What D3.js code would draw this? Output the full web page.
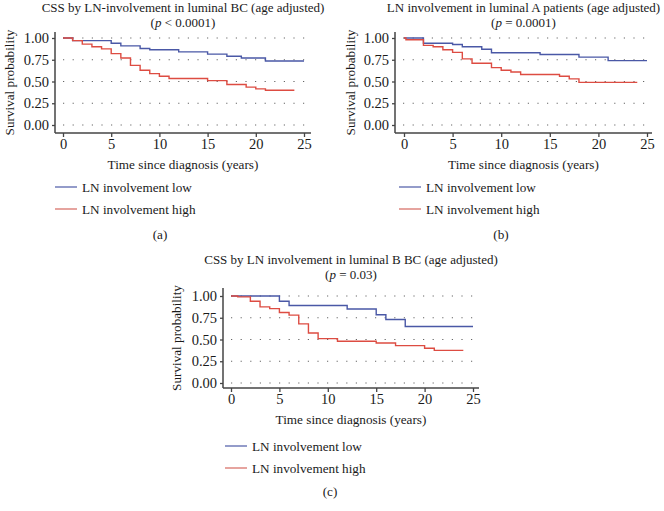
<!DOCTYPE html>
<html>
<head>
<meta charset="utf-8">
<script src="https://cdn.jsdelivr.net/npm/d3@7"></script>
<style>
html,body{margin:0;padding:0;background:#fff;}
svg{display:block;}
text{font-family:"Liberation Serif","Times New Roman",serif;fill:#1a1a1a;}
</style>
</head>
<body>
<svg id="chart" width="664" height="511"></svg>
<script>
// ---- data (step points: [time, survival]) ----
const xTicks = [0, 5, 10, 15, 20, 25];
const yTicks = [0, 0.25, 0.5, 0.75, 1.0];
const yTickLabels = ["0.00", "0.25", "0.50", "0.75", "1.00"];
const seriesNames = ["LN involvement low", "LN involvement high"];
const panelTitles = [
  ["CSS by LN-involvement in luminal BC (age adjusted)", "< 0.0001"],
  ["LN involvement in luminal A patients (age adjusted)", "= 0.0001"],
  ["CSS by LN involvement in luminal B BC (age adjusted)", "= 0.03"]
];
const panelLetters = ["(a)", "(b)", "(c)"];

const aLow = [[0,1],[1,0.97],[5,0.94],[6,0.91],[8,0.88],[9,0.865],[12,0.84],[15,0.815],[17,0.79],[18.5,0.77],[21,0.735],[25,0.735]];
const aHigh = [[0,1],[1,0.97],[2,0.93],[3,0.90],[4,0.875],[5,0.82],[6,0.77],[7,0.685],[8,0.63],[9,0.59],[10,0.56],[11,0.535],[15,0.51],[17,0.465],[19,0.435],[20,0.415],[21,0.40],[24,0.40]];

const bLow = [[0,1],[2,0.94],[5,0.925],[6,0.90],[8,0.87],[9,0.83],[14,0.81],[18,0.78],[21,0.74],[25,0.74]];
const bHigh = [[0,1],[0.2,0.98],[2,0.915],[3,0.90],[4,0.865],[5,0.835],[6,0.76],[7,0.71],[9,0.66],[10,0.63],[11,0.61],[12,0.58],[16,0.56],[17,0.53],[18,0.49],[24,0.49]];

const cLow = [[0,1],[5,0.94],[6,0.89],[12,0.85],[15,0.785],[16,0.73],[18,0.65],[25,0.65]];
const cHigh = [[0,1],[0.7,0.99],[2,0.94],[3,0.875],[4,0.855],[5,0.81],[6,0.78],[7,0.68],[8,0.575],[9,0.51],[11,0.48],[15,0.46],[17,0.43],[20,0.40],[21,0.375],[24,0.375]];

const panelData = [[aLow, aHigh], [bLow, bHigh], [cLow, cHigh]];

// ---- layout ----
const colors = ["#4a58a6", "#dd4c42"];
const legendColors = ["#5a66ad", "#d9736b"];
const layouts = [
  {x0:63, x25:304, y1:38, y0:125, axL:55, axR:311, axT:32, axB:133, ylabX:9, titleY:12},
  {x0:404, x25:647, y1:38, y0:125, axL:395, axR:652, axT:32, axB:133, ylabX:350, titleY:12},
  {x0:231, x25:473, y1:296, y0:383, axL:223, axR:479, axT:288, axB:388, ylabX:176, titleY:264}
];
const legends = [
  {lx:55, ly:187, letterX:160, letterY:239},
  {lx:399, ly:187, letterX:501, letterY:239},
  {lx:225, ly:446, letterX:330, letterY:496}
];

const svg = d3.select("#chart");

panelData.forEach((series, i) => {
  const L = layouts[i];
  const g = svg.append("g");
  const x = d3.scaleLinear().domain([0, 25]).range([L.x0, L.x25]);
  const y = d3.scaleLinear().domain([0, 1]).range([L.y0, L.y1]);

  // grid
  g.selectAll(".grid").data(yTicks).join("line")
    .attr("x1", L.axL + 2).attr("x2", L.axR)
    .attr("y1", d => y(d)).attr("y2", d => y(d))
    .attr("stroke", "#666").attr("stroke-width", 1.2)
    .attr("stroke-dasharray", "1.2,8.4").attr("stroke-dashoffset", -6);

  // curves
  const line = d3.line().x(d => x(d[0])).y(d => y(d[1])).curve(d3.curveStepAfter);
  series.forEach((s, k) => {
    g.append("path").datum(s).attr("d", line)
      .attr("fill", "none").attr("stroke", colors[k]).attr("stroke-width", 1.4);
  });

  // axes
  const axisColor = "#444";
  g.append("line").attr("x1", L.axL).attr("x2", L.axL).attr("y1", L.axT).attr("y2", L.axB)
    .attr("stroke", axisColor).attr("stroke-width", 1.5);
  g.append("line").attr("x1", L.axL).attr("x2", L.axR).attr("y1", L.axB).attr("y2", L.axB)
    .attr("stroke", axisColor).attr("stroke-width", 1.5);

  const yAxis = d3.axisLeft(y).tickValues(yTicks).tickFormat((d, j) => yTickLabels[j]).tickSize(3).tickPadding(3);
  const ya = g.append("g").attr("transform", `translate(${L.axL},0)`).call(yAxis);
  ya.select(".domain").remove();
  ya.selectAll("line").attr("stroke", axisColor).attr("stroke-width", 1.3);
  ya.selectAll("text").attr("font-size", 14.5).attr("font-family", "Liberation Serif").attr("fill", "#1a1a1a");

  const xAxis = d3.axisBottom(x).tickValues(xTicks).tickSize(4).tickPadding(2);
  const xa = g.append("g").attr("transform", `translate(0,${L.axB})`).call(xAxis);
  xa.select(".domain").remove();
  xa.selectAll("line").attr("stroke", axisColor).attr("stroke-width", 1.3);
  xa.selectAll("text").attr("font-size", 14.5).attr("font-family", "Liberation Serif").attr("fill", "#1a1a1a");

  const cx = (L.axL + L.axR) / 2;
  // x label
  g.append("text").attr("x", cx).attr("y", L.axB + 36).attr("text-anchor", "middle")
    .attr("font-size", 13.2).text("Time since diagnosis (years)");
  // y label
  g.append("text").attr("transform", `translate(${L.ylabX},${(L.axT + L.axB) / 2}) rotate(-90)`)
    .attr("text-anchor", "middle").attr("dominant-baseline", "central")
    .attr("font-size", 13.2).text("Survival probability");
  // title
  g.append("text").attr("x", cx).attr("y", L.titleY).attr("text-anchor", "middle")
    .attr("font-size", 13).text(panelTitles[i][0]);
  const t2 = g.append("text").attr("x", cx).attr("y", L.titleY + 15).attr("text-anchor", "middle")
    .attr("font-size", 13);
  t2.append("tspan").text("(");
  t2.append("tspan").attr("font-style", "italic").text("p");
  t2.append("tspan").text(" " + panelTitles[i][1] + ")");

  // legend
  const Lg = legends[i];
  seriesNames.forEach((nm, k) => {
    const yy = Lg.ly + k * 22;
    g.append("line").attr("x1", Lg.lx).attr("x2", Lg.lx + 22).attr("y1", yy).attr("y2", yy)
      .attr("stroke", legendColors[k]).attr("stroke-width", 1.3);
    g.append("text").attr("x", Lg.lx + 27).attr("y", yy).attr("dominant-baseline", "central")
      .attr("font-size", 13.2).text(nm);
  });
  g.append("text").attr("x", Lg.letterX).attr("y", Lg.letterY).attr("text-anchor", "middle")
    .attr("font-size", 13.2).text(panelLetters[i]);
});
</script>
</body>
</html>
